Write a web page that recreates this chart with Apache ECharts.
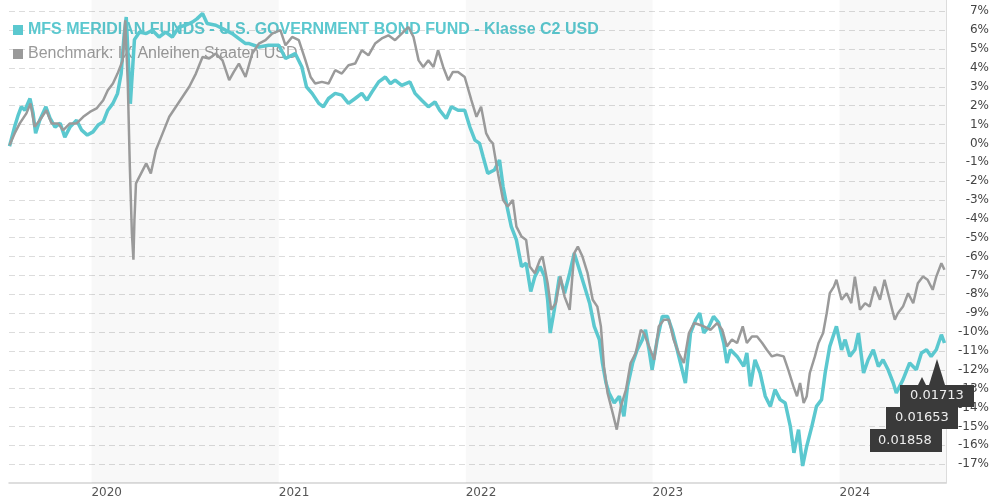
<!DOCTYPE html>
<html lang="de">
<head>
    <meta charset="utf-8" />
    <title>MFS Meridian Funds - U.S. Government Bond Fund</title>
    <script src="https://cdn.jsdelivr.net/npm/echarts@6/dist/echarts.min.js"></script>
    <style>
        html, body { margin: 0; padding: 0; background: #fff; }
        #chart { width: 992px; height: 500px; }
    </style>
</head>
<body>
<div id="chart"></div>
<script>
    // Daten (Wertentwicklung in %)
    var fundName = 'MFS MERIDIAN FUNDS - U.S. GOVERNMENT BOND FUND - Klasse C2 USD';
    var benchName = 'Benchmark: IX Anleihen Staaten USD';

    var fundDates = ['2019-07-25', '2019-08-04', '2019-08-11', '2019-08-17', '2019-08-24', '2019-09-03', '2019-09-09', '2019-09-14', '2019-09-22', '2019-10-04',
        '2019-10-12', '2019-10-22', '2019-11-01', '2019-11-10', '2019-11-20', '2019-12-03', '2019-12-13', '2019-12-24', '2020-01-04', '2020-01-14',
        '2020-01-24', '2020-02-02', '2020-02-12', '2020-02-21', '2020-02-28', '2020-03-05', '2020-03-09', '2020-03-17', '2020-03-25', '2020-04-04',
        '2020-04-17', '2020-04-29', '2020-05-12', '2020-05-25', '2020-06-07', '2020-06-20', '2020-07-03', '2020-07-16', '2020-07-25', '2020-08-05',
        '2020-08-14', '2020-08-31', '2020-09-19', '2020-10-02', '2020-10-15', '2020-10-28', '2020-11-04', '2020-11-23', '2020-12-12', '2021-01-01',
        '2021-01-14', '2021-02-02', '2021-02-15', '2021-02-24', '2021-03-07', '2021-03-20', '2021-03-29', '2021-04-08', '2021-04-21', '2021-05-04',
        '2021-05-17', '2021-05-30', '2021-06-12', '2021-06-22', '2021-07-02', '2021-07-15', '2021-07-28', '2021-08-07', '2021-08-16', '2021-08-29',
        '2021-09-14', '2021-09-24', '2021-10-07', '2021-10-20', '2021-11-02', '2021-11-11', '2021-11-24', '2021-12-04', '2021-12-17', '2021-12-30',
        '2022-01-09', '2022-01-19', '2022-01-28', '2022-02-04', '2022-02-13', '2022-02-26', '2022-03-08', '2022-03-15', '2022-03-24', '2022-03-31',
        '2022-04-10', '2022-04-20', '2022-04-29', '2022-05-08', '2022-05-16', '2022-05-26', '2022-06-04', '2022-06-10', '2022-06-15', '2022-06-23',
        '2022-07-03', '2022-07-13', '2022-07-23', '2022-08-01', '2022-08-11', '2022-08-21', '2022-08-31', '2022-09-09', '2022-09-19', '2022-09-25',
        '2022-10-02', '2022-10-08', '2022-10-18', '2022-10-28', '2022-11-06', '2022-11-13', '2022-11-23', '2022-12-02', '2022-12-12', '2022-12-18',
        '2022-12-25', '2022-12-31', '2023-01-10', '2023-01-20', '2023-01-30', '2023-02-08', '2023-02-18', '2023-02-26', '2023-03-06', '2023-03-16',
        '2023-03-26', '2023-04-03', '2023-04-11', '2023-04-21', '2023-04-30', '2023-05-10', '2023-05-20', '2023-05-26', '2023-06-02', '2023-06-15',
        '2023-06-28', '2023-07-04', '2023-07-11', '2023-07-20', '2023-07-30', '2023-08-09', '2023-08-19', '2023-08-28', '2023-09-07', '2023-09-17',
        '2023-09-27', '2023-10-04', '2023-10-13', '2023-10-21', '2023-10-29', '2023-11-08', '2023-11-17', '2023-11-27', '2023-12-04', '2023-12-13',
        '2023-12-26', '2024-01-05', '2024-01-12', '2024-01-21', '2024-01-31', '2024-02-07', '2024-02-17', '2024-02-26', '2024-03-07', '2024-03-17',
        '2024-03-26', '2024-04-05', '2024-04-15', '2024-04-21', '2024-05-04', '2024-05-17', '2024-05-30', '2024-06-09', '2024-06-19', '2024-06-28',
        '2024-07-08', '2024-07-18', '2024-07-24'];
    var fundValues = [-0.15, 0.88, 1.5, 1.94, 1.76, 2.38, 1.6, 0.54, 1.23, 1.94,
        1.34, 0.86, 1.07, 0.33, 0.86, 1.23, 0.7, 0.44, 0.61, 0.97,
        1.14, 1.76, 2.12, 2.65, 3.7, 5.8, 6.7, 2.1, 5.5, 5.9,
        5.82, 6.0, 5.64, 5.9, 5.64, 6.17, 6.26, 6.43, 6.6, 6.88,
        6.35, 6.26, 6.0, 5.82, 5.55, 5.29, 5.29, 5.11, 5.2, 5.2,
        4.5, 4.76, 4.05, 3.0, 2.65, 2.12, 1.94, 2.38, 2.65, 2.56,
        2.12, 2.38, 2.65, 2.29, 2.73, 3.26, 3.52, 3.17, 3.35, 3.08,
        3.26, 2.65, 2.29, 1.94, 2.2, 1.76, 1.32, 1.94, 1.76, 1.76,
        0.88, 0.17, 0.0, -0.71, -1.59, -1.41, -0.88, -2.3, -3.53, -4.41,
        -5.12, -6.53, -6.35, -7.85, -7.06, -6.53, -7.06, -8.29, -10.05, -8.82,
        -7.06, -7.94, -6.88, -5.82, -6.7, -7.59, -8.47, -9.7, -10.4, -11.64,
        -12.7, -13.23, -13.76, -13.4, -14.47, -12.88, -11.64, -10.94, -10.4, -9.88,
        -10.94, -12.0, -10.4, -9.17, -9.17, -9.88, -10.94, -11.82, -12.7, -10.05,
        -9.35, -9.0, -10.05, -9.7, -9.17, -9.5, -10.58, -11.64, -10.94, -11.29,
        -11.82, -11.11, -12.88, -11.47, -12.17, -13.4, -13.94, -13.05, -13.58, -13.76,
        -15.0, -16.4, -15.17, -17.1, -16.05, -15.0, -13.94, -13.58, -12.17, -10.76,
        -9.7, -10.94, -10.4, -11.29, -10.94, -10.05, -12.17, -11.47, -10.94, -11.82,
        -11.47, -12.0, -12.7, -13.23, -12.52, -11.64, -12.0, -11.11, -10.94, -11.29,
        -10.94, -10.14, -10.58];

    var benchDates = ['2019-07-25', '2019-08-04', '2019-08-14', '2019-08-27', '2019-09-04', '2019-09-12', '2019-09-22', '2019-10-05', '2019-10-15', '2019-10-28',
        '2019-11-07', '2019-11-20', '2019-12-03', '2019-12-16', '2019-12-29', '2020-01-11', '2020-01-24', '2020-02-02', '2020-02-12', '2020-02-21',
        '2020-03-02', '2020-03-07', '2020-03-12', '2020-03-16', '2020-03-20', '2020-03-23', '2020-03-25', '2020-03-28', '2020-04-07', '2020-04-17',
        '2020-04-26', '2020-05-06', '2020-05-19', '2020-06-01', '2020-06-14', '2020-06-27', '2020-07-10', '2020-07-23', '2020-08-05', '2020-08-18',
        '2020-08-31', '2020-09-13', '2020-09-26', '2020-10-05', '2020-10-15', '2020-10-28', '2020-11-10', '2020-11-23', '2020-12-06', '2020-12-19',
        '2021-01-04', '2021-01-14', '2021-01-27', '2021-02-09', '2021-02-22', '2021-03-04', '2021-03-13', '2021-03-26', '2021-04-08', '2021-04-21',
        '2021-05-04', '2021-05-17', '2021-05-30', '2021-06-12', '2021-06-25', '2021-07-08', '2021-07-21', '2021-08-03', '2021-08-16', '2021-08-29',
        '2021-09-11', '2021-09-21', '2021-10-01', '2021-10-10', '2021-10-20', '2021-10-30', '2021-11-08', '2021-11-18', '2021-11-28', '2021-12-07',
        '2021-12-17', '2021-12-30', '2022-01-12', '2022-01-22', '2022-01-31', '2022-02-10', '2022-02-17', '2022-02-23', '2022-03-05', '2022-03-15',
        '2022-03-24', '2022-04-03', '2022-04-10', '2022-04-20', '2022-04-29', '2022-05-06', '2022-05-16', '2022-05-26', '2022-05-31', '2022-06-10',
        '2022-06-17', '2022-06-26', '2022-07-05', '2022-07-13', '2022-07-23', '2022-08-01', '2022-08-08', '2022-08-17', '2022-08-27', '2022-09-06',
        '2022-09-15', '2022-09-22', '2022-09-28', '2022-10-05', '2022-10-15', '2022-10-23', '2022-10-31', '2022-11-10', '2022-11-19', '2022-11-29',
        '2022-12-09', '2022-12-15', '2022-12-25', '2023-01-04', '2023-01-13', '2023-01-23', '2023-02-02', '2023-02-11', '2023-02-21', '2023-03-03',
        '2023-03-13', '2023-03-23', '2023-04-01', '2023-04-11', '2023-04-24', '2023-05-07', '2023-05-17', '2023-05-26', '2023-06-05', '2023-06-15',
        '2023-06-26', '2023-07-04', '2023-07-14', '2023-07-24', '2023-08-03', '2023-08-12', '2023-08-22', '2023-09-01', '2023-09-14', '2023-09-23',
        '2023-10-03', '2023-10-10', '2023-10-16', '2023-10-23', '2023-10-29', '2023-11-04', '2023-11-14', '2023-11-21', '2023-11-30', '2023-12-07',
        '2023-12-13', '2023-12-21', '2023-12-26', '2024-01-05', '2024-01-15', '2024-01-24', '2024-01-31', '2024-02-10', '2024-02-20', '2024-02-29',
        '2024-03-10', '2024-03-20', '2024-03-29', '2024-04-08', '2024-04-18', '2024-04-24', '2024-05-04', '2024-05-14', '2024-05-24', '2024-06-02',
        '2024-06-12', '2024-06-21', '2024-07-01', '2024-07-08', '2024-07-18', '2024-07-24'];
    var benchValues = [-0.1, 0.53, 1.06, 1.59, 2.12, 0.88, 1.23, 1.76, 1.06, 1.06,
        0.7, 1.06, 1.06, 1.41, 1.67, 1.85, 2.29, 2.82, 3.17, 3.7,
        4.4, 6.52, 3.17, -1.24, -4.76, -6.17, -4.06, -2.12, -1.59, -1.06,
        -1.59, -0.35, 0.53, 1.41, 1.94, 2.47, 3.0, 3.7, 4.58, 4.5,
        4.76, 4.4, 3.35, 3.79, 4.23, 3.52, 4.76, 5.29, 5.47, 5.82,
        6.0, 5.2, 5.64, 5.47, 4.4, 3.52, 3.17, 3.26, 3.17, 3.88,
        3.7, 4.14, 4.23, 4.94, 4.67, 5.29, 5.56, 5.73, 5.47, 5.82,
        6.17, 5.64, 4.4, 4.05, 4.4, 4.05, 4.94, 4.05, 3.35, 3.79,
        3.79, 3.52, 2.29, 1.41, 1.94, 0.53, 0.17, 0.0, -1.59, -3.0,
        -3.35, -3.0, -4.41, -4.94, -5.12, -6.53, -6.88, -6.17, -6.0, -7.41,
        -8.82, -8.47, -7.06, -8.12, -8.82, -5.82, -5.47, -6.0, -6.88, -8.29,
        -8.65, -9.7, -11.82, -13.23, -14.29, -15.17, -13.94, -13.05, -11.64, -11.11,
        -9.88, -10.05, -10.76, -11.47, -9.7, -9.35, -9.35, -10.4, -11.11, -11.64,
        -10.05, -9.52, -9.6, -9.7, -9.88, -9.52, -9.88, -10.76, -10.4, -10.58,
        -9.7, -10.58, -10.23, -10.23, -10.58, -10.94, -11.29, -11.2, -11.29, -12.0,
        -12.88, -13.4, -12.7, -13.76, -13.4, -12.17, -11.29, -10.58, -10.05, -9.0,
        -7.94, -7.59, -7.23, -8.29, -7.94, -8.47, -7.06, -8.82, -8.47, -8.65,
        -7.59, -8.29, -7.23, -8.29, -9.35, -9.0, -8.65, -7.94, -8.47, -7.41,
        -7.06, -7.23, -7.76, -7.06, -6.35, -6.7];

    // Jahresbaender (jedes zweite Jahr grau hinterlegt)
    var bandRanges = [['2020-01-01', '2021-01-01'], ['2022-01-01', '2023-01-01'], ['2024-01-01', '2024-07-27']];
    // Kurs-Labels unten rechts
    var tipValues = ['0.01713', '0.01653', '0.01858'];

    var teal = '#5bc8cf', grey = '#9a9a9a';

    function pairs(dates, values) {
        return dates.map(function (d, i) { return [d, values[i]]; });
    }

    var chart = echarts.init(document.getElementById('chart'));
    chart.setOption({
        animation: false,
        backgroundColor: '#fff',
        grid: { left: 9, right: 42, top: 0, bottom: 17, containLabel: false },
        legend: {
            orient: 'vertical', left: 8, top: 17, z: 1,
            itemWidth: 10, itemHeight: 10, itemGap: 8, icon: 'rect',
            selectedMode: false,
            textStyle: { fontFamily: 'Liberation Sans, Arial', fontSize: 16, lineHeight: 16 },
            data: [
                { name: fundName, textStyle: { color: teal, fontWeight: 'bold' } },
                { name: benchName, textStyle: { color: grey } }
            ]
        },
        xAxis: {
            type: 'time',
            min: '2019-07-24', max: '2024-07-27',
            minInterval: 365 * 24 * 3600 * 1000,
            axisLine: { onZero: false, lineStyle: { color: '#d4d4d4', width: 1.5 } },
            axisTick: { show: false },
            splitLine: { show: false },
            axisLabel: {
                align: 'left', margin: 4, color: '#555',
                fontFamily: 'DejaVu Sans', fontSize: 12,
                showMinLabel: false, showMaxLabel: false,
                formatter: function (val) {
                    var d = new Date(val);
                    return (d.getMonth() === 0 && d.getDate() === 1) ? String(d.getFullYear()) : '';
                }
            }
        },
        yAxis: {
            type: 'value', position: 'right',
            min: -18, max: 7.6, interval: 1,
            axisLine: { show: true, lineStyle: { color: '#dcdcdc' } },
            axisTick: { show: false },
            splitLine: { show: true, showMinLine: false, showMaxLine: false, lineStyle: { color: '#dcdcdc', type: [6, 4] } },
            axisLabel: {
                align: 'right', margin: 43, color: '#444',
                fontFamily: 'DejaVu Sans', fontSize: 12,
                showMinLabel: false, showMaxLabel: false,
                formatter: function (v) { return Math.abs(v - Math.round(v)) < 1e-6 ? v + '%' : ''; }
            }
        },
        series: [
            {
                name: fundName, type: 'line', showSymbol: false, z: 2,
                lineStyle: { color: teal, width: 3.5 }, itemStyle: { color: teal },
                data: pairs(fundDates, fundValues),
                markArea: {
                    silent: true,
                    itemStyle: { color: 'rgba(0,0,0,0.028)' },
                    data: bandRanges.map(function (r) { return [{ xAxis: r[0] }, { xAxis: r[1] }]; })
                }
            },
            {
                name: benchName, type: 'line', showSymbol: false, z: 3,
                lineStyle: { color: grey, width: 2.5 }, itemStyle: { color: grey },
                data: pairs(benchDates, benchValues)
            }
        ],
        graphic: [
            { type: 'polygon', z: 100, shape: { points: [[929, 385], [937, 359], [945, 385]] }, style: { fill: '#3a3a3a' } },
            { type: 'polygon', z: 100, shape: { points: [[918, 385], [922, 377], [926, 385]] }, style: { fill: '#3a3a3a' } },
            { type: 'rect', z: 100, shape: { x: 900, y: 385, width: 74, height: 22 }, style: { fill: '#3a3a3a' } },
            { type: 'text', z: 101, x: 910, y: 396, style: { text: tipValues[0], fill: '#eee', font: '13px DejaVu Sans', verticalAlign: 'middle' } },
            { type: 'rect', z: 100, shape: { x: 886, y: 407, width: 72, height: 22 }, style: { fill: '#3a3a3a' } },
            { type: 'text', z: 101, x: 895, y: 418, style: { text: tipValues[1], fill: '#eee', font: '13px DejaVu Sans', verticalAlign: 'middle' } },
            { type: 'rect', z: 100, shape: { x: 870, y: 429, width: 72, height: 23 }, style: { fill: '#3a3a3a' } },
            { type: 'text', z: 101, x: 878, y: 440.5, style: { text: tipValues[2], fill: '#eee', font: '13px DejaVu Sans', verticalAlign: 'middle' } }
        ]
    });
</script>
</body>
</html>
